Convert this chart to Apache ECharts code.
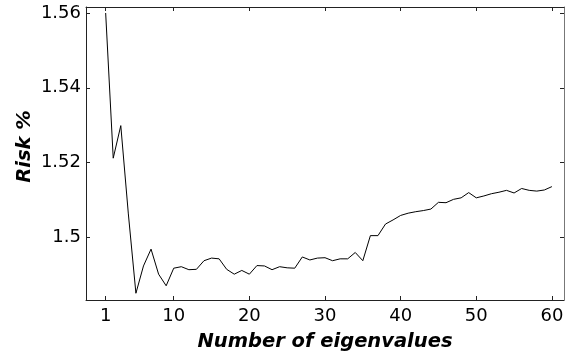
<!DOCTYPE html>
<html>
<head>
<meta charset="utf-8">
<script src="https://cdn.jsdelivr.net/npm/echarts@6/dist/echarts.min.js"></script>
<style>
  html, body { margin: 0; padding: 0; background: #fff; }
  #chart { width: 569px; height: 358px; }
</style>
</head>
<body>
<div id="chart"></div>
<script>
// x: number of eigenvalues, y: risk %
var eigenCounts = [];
for (var k = 1; k <= 60; k++) eigenCounts.push(k);

var riskValues = [
  1.5600, 1.5212, 1.5299, 1.5063, 1.4851, 1.4924, 1.4969, 1.4902, 1.4871, 1.4918,
  1.4922, 1.4914, 1.4915, 1.4938, 1.4945, 1.4943, 1.4915, 1.4902, 1.4912, 1.4902,
  1.4925, 1.4924, 1.4914, 1.4922, 1.4919, 1.4918, 1.4948, 1.4940, 1.4945, 1.4946,
  1.4938, 1.4943, 1.4943, 1.4960, 1.4938, 1.5005, 1.5005, 1.5036, 1.5047, 1.5059,
  1.5065, 1.5069, 1.5072, 1.5076, 1.5094, 1.5093, 1.5102, 1.5106, 1.5120, 1.5106,
  1.5111, 1.5117, 1.5121, 1.5126, 1.5119, 1.5131, 1.5126, 1.5124, 1.5127, 1.5136
];

var xTicks = [1, 10, 20, 30, 40, 50, 60];
var yTicks = [1.5, 1.52, 1.54, 1.56];

var FONT = 'DejaVu Sans, sans-serif';
var xMin = -1.6, xMax = 61.6;
var yMin = 1.4833, yMax = 1.5616;

var points = eigenCounts.map(function (x, i) { return [x, riskValues[i]]; });

function xAxisCfg(pos, showLabel) {
  return {
    type: 'value',
    position: pos,
    min: xMin,
    max: xMax,
    splitLine: { show: false },
    axisLine: { show: true, onZero: false, lineStyle: { color: '#222', width: 1 } },
    axisTick: { show: true, inside: true, length: 4, customValues: xTicks, lineStyle: { color: '#222' } },
    axisLabel: {
      show: showLabel, customValues: xTicks, margin: 7,
      color: '#000', fontSize: 18, fontFamily: FONT
    }
  };
}

function yAxisCfg(pos, showLabel) {
  return {
    type: 'value',
    position: pos,
    min: yMin,
    max: yMax,
    splitLine: { show: false },
    axisLine: { show: true, onZero: false, lineStyle: { color: pos === 'right' ? '#777' : '#222', width: 1 } },
    axisTick: { show: true, inside: true, length: 4, customValues: yTicks, lineStyle: { color: '#222' } },
    axisLabel: {
      show: showLabel, customValues: yTicks, margin: 5,
      color: '#000', fontSize: 18, fontFamily: FONT,
      formatter: function (v) { return String(+(+v).toFixed(2)); }
    }
  };
}

var xBottom = xAxisCfg('bottom', true);
xBottom.name = 'Number of eigenvalues';
xBottom.nameLocation = 'middle';
xBottom.nameGap = 32;
xBottom.nameMoveOverlap = false;
xBottom.nameTextStyle = { fontSize: 19.5, fontWeight: 'bold', fontStyle: 'italic', fontFamily: FONT, color: '#000' };

var yLeft = yAxisCfg('left', true);
yLeft.name = 'Risk %';
yLeft.nameLocation = 'middle';
yLeft.nameGap = 51;
yLeft.nameMoveOverlap = false;
yLeft.nameTextStyle = {
  fontSize: 19.5, fontWeight: 'bold', fontStyle: 'italic', fontFamily: FONT, color: '#000',
  padding: [0, 0, 0, 14]
};

var option = {
  animation: false,
  backgroundColor: '#fff',
  grid: { left: 86, right: 5, top: 7, bottom: 58 },
  xAxis: [xBottom, xAxisCfg('top', false)],
  yAxis: [yLeft, yAxisCfg('right', false)],
  series: [{
    type: 'line',
    data: points,
    showSymbol: false,
    lineStyle: { color: '#000', width: 1 },
    xAxisIndex: 0,
    yAxisIndex: 0
  }]
};

var chart = echarts.init(document.getElementById('chart'));
chart.setOption(option);
</script>
</body>
</html>
